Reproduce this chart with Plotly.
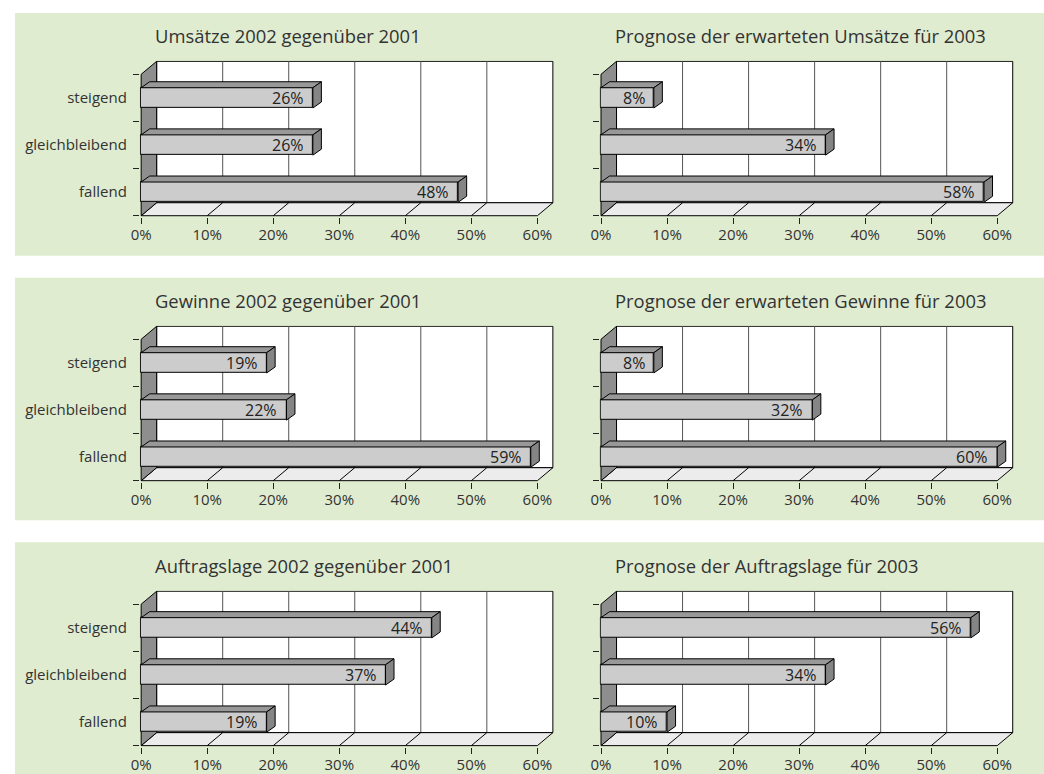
import plotly.graph_objects as go

# ---------------- data ----------------
categories = ["fallend", "gleichbleibend", "steigend"]          # bottom -> top
cat_pos = [0.5, 1.5, 2.5]
tick_pct = [0, 10, 20, 30, 40, 50, 60]
tick_lbl = ["0%", "10%", "20%", "30%", "40%", "50%", "60%"]

titles = [
    "Umsätze 2002 gegenüber 2001",
    "Prognose der erwarteten Umsätze für 2003",
    "Gewinne 2002 gegenüber 2001",
    "Prognose der erwarteten Gewinne für 2003",
    "Auftragslage 2002 gegenüber 2001",
    "Prognose der Auftragslage für 2003",
]
# values ordered fallend, gleichbleibend, steigend
umsatz_2002 = [48, 26, 26]
umsatz_2003 = [58, 34, 8]
gewinn_2002 = [59, 22, 19]
gewinn_2003 = [60, 32, 8]
auftrag_2002 = [19, 37, 44]
auftrag_2003 = [10, 34, 56]
series = [umsatz_2002, umsatz_2003, gewinn_2002, gewinn_2003, auftrag_2002, auftrag_2003]

# ---------------- geometry / style ----------------
W, H = 1044, 774
# horizontal compensation for the page offset seen in the rendered output
OFFX, SCX = 8.0, (1044 - 8) / 1044


def hx(px):
    """target page pixel -> figure pixel (horizontal)"""
    return (px - OFFX) / SCX


SX = 6.61 / SCX        # px per percent
SY = 47.2              # px per category unit
X0 = [hx(140.3), hx(600.6)]    # pixel of 0% (front) per column
Y0 = [216.0, 481.3, 746.6]     # pixel of front floor line per row
DXP, DYP = 15.5 / SCX, 13.0    # wall depth in px
BDXP, BDYP = 8.5 / SCX, 6.0    # bar depth in px
DX, DY = DXP / SX, DYP / SY
BDX, BDY = BDXP / SX, BDYP / SY
HW = 0.215
XR = [-0.2, 62.6]
YR = [-0.03, 3 + DY + 0.01]
FONT = "Open Sans, Noto Sans, sans-serif"
TXT = "#333333"
GREEN = "#dfecd0"

fig = go.Figure()
shapes = []
annotations = []
layout_axes = {}

# green bands
for top in [13, 278, 543]:
    shapes.append(dict(type="rect", xref="paper", yref="paper",
                       x0=hx(14) / W, x1=1.0, y0=1 - (top + 243) / H, y1=1 - top / H,
                       fillcolor=GREEN, line=dict(width=0), layer="below"))

for i, vals in enumerate(series):
    r, c = divmod(i, 2)
    n = i + 1
    xa = "x" if n == 1 else f"x{n}"
    ya = "y" if n == 1 else f"y{n}"
    xkey = "xaxis" if n == 1 else f"xaxis{n}"
    ykey = "yaxis" if n == 1 else f"yaxis{n}"
    x0p, y0p = X0[c], Y0[r]
    dom_x = [(x0p + XR[0] * SX) / W, (x0p + XR[1] * SX) / W]
    dom_y = [1 - (y0p - YR[0] * SY) / H, 1 - (y0p - YR[1] * SY) / H]

    layout_axes[xkey] = dict(domain=dom_x, range=XR, anchor=ya, fixedrange=True,
                             tickmode="array", tickvals=tick_pct, ticktext=tick_lbl,
                             ticks="outside", ticklen=6, tickcolor="#222", tickwidth=1,
                             ticklabelstandoff=-2,
                             showgrid=False, zeroline=False, showline=False,
                             tickfont=dict(size=15, color=TXT, family=FONT))
    layout_axes[ykey] = dict(domain=dom_y, range=YR, anchor=xa, fixedrange=True,
                             tickmode="array", tickvals=cat_pos, ticktext=categories,
                             showticklabels=(c == 0), ticks="", ticklabelstandoff=12,
                             minor=dict(tickmode="array", tickvals=[0, 1, 2, 3], ticks="outside",
                                        ticklen=6, tickcolor="#222", tickwidth=1, showgrid=False),
                             showgrid=False, zeroline=False, showline=False,
                             tickfont=dict(size=15, color=TXT, family=FONT))

    # back wall with grid
    shapes.append(dict(type="rect", xref=xa, yref=ya, x0=DX, x1=60 + DX, y0=DY, y1=3 + DY,
                       fillcolor="white", line=dict(color="#000", width=1), layer="below"))
    for v in tick_pct[1:-1]:
        shapes.append(dict(type="line", xref=xa, yref=ya, x0=v + DX, x1=v + DX, y0=DY, y1=3 + DY,
                           line=dict(color="#555", width=1), layer="below"))
    # floor
    shapes.append(dict(type="path", xref=xa, yref=ya,
                       path=f"M 0,0 L 60,0 L {60 + DX},{DY} L {DX},{DY} Z",
                       fillcolor="#ececec", line=dict(color="#000", width=1), layer="below"))
    for v in tick_pct[1:-1]:
        shapes.append(dict(type="line", xref=xa, yref=ya, x0=v, x1=v + DX, y0=0, y1=DY,
                           line=dict(color="#000", width=1), layer="below"))
    # left wall
    shapes.append(dict(type="path", xref=xa, yref=ya,
                       path=f"M 0,0 L 0,3 L {DX},{3 + DY} L {DX},{DY} Z",
                       fillcolor="#8e8e8e", line=dict(color="#000", width=1), layer="below"))

    # bars (front face)
    fig.add_trace(go.Bar(x=vals, y=cat_pos, orientation="h", width=2 * HW,
                         marker=dict(color="#cccccc", line=dict(color="#000", width=1)),
                         xaxis=xa, yaxis=ya, hoverinfo="skip", showlegend=False))
    # top and side faces
    for v, cy in zip(vals, cat_pos):
        fig.add_trace(go.Scatter(
            x=[0, v, v + BDX, BDX, 0],
            y=[cy + HW, cy + HW, cy + HW + BDY, cy + HW + BDY, cy + HW],
            mode="lines", fill="toself", fillcolor="#989898",
            line=dict(color="#000", width=1), xaxis=xa, yaxis=ya,
            hoverinfo="skip", showlegend=False))
        fig.add_trace(go.Scatter(
            x=[v, v + BDX, v + BDX, v, v],
            y=[cy - HW, cy - HW + BDY, cy + HW + BDY, cy + HW, cy - HW],
            mode="lines", fill="toself", fillcolor="#858585",
            line=dict(color="#000", width=1), xaxis=xa, yaxis=ya,
            hoverinfo="skip", showlegend=False))
        annotations.append(dict(xref=xa, yref=ya, x=v, y=cy, text=f"{v}%",
                                xanchor="right", yanchor="middle", xshift=-7, yshift=0,
                                showarrow=False, font=dict(size=16, color="#222", family=FONT)))

    # title
    annotations.append(dict(xref="paper", yref="paper", x=(x0p + 12) / W,
                            y=1 - (y0p - 180) / H, text=titles[i], xanchor="left",
                            yanchor="middle", showarrow=False,
                            font=dict(size=18.4, color=TXT, family=FONT)))

fig.update_layout(width=W, height=H, margin=dict(l=0, r=0, t=0, b=0),
                  paper_bgcolor="white", plot_bgcolor="rgba(0,0,0,0)",
                  showlegend=False, bargap=0, shapes=shapes, annotations=annotations,
                  font=dict(family=FONT, color=TXT), **layout_axes)

fig.write_html("out.html", config={"displayModeBar": False})
